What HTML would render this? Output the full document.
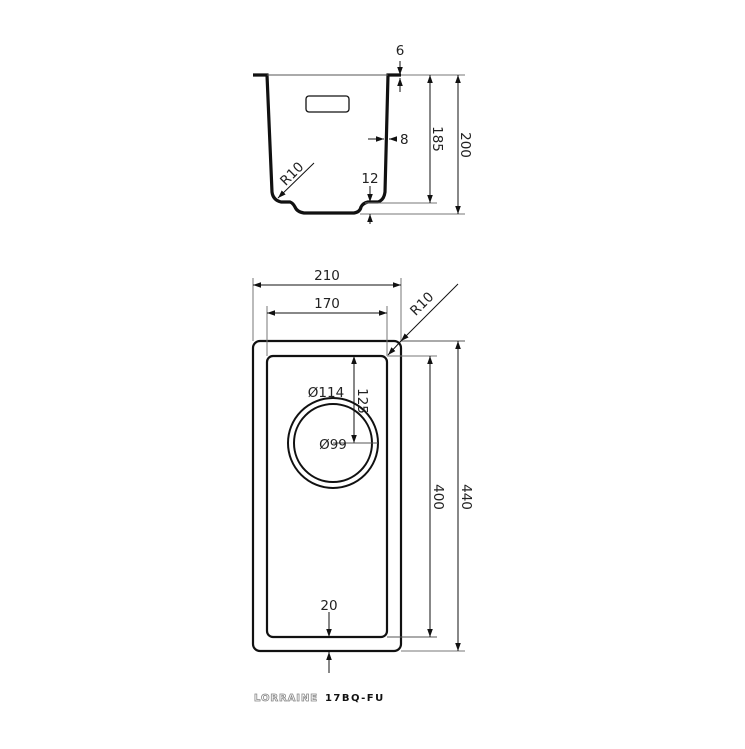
<!DOCTYPE html>
<html><head><style>
html,body{margin:0;padding:0;background:#fff;}
svg{display:block;}
text{font-family:"DejaVu Sans","Liberation Sans",sans-serif;font-size:13.5px;fill:#222;}
</style></head><body>
<svg width="745" height="749" viewBox="0 0 745 749" xmlns="http://www.w3.org/2000/svg">
<defs>
<marker id="a" viewBox="0 0 10 10" refX="10" refY="5" markerWidth="8" markerHeight="8" orient="auto-start-reverse" markerUnits="userSpaceOnUse"><path d="M0,1.5 L10,5 L0,8.5 z" fill="#111"/></marker>
</defs>
<g stroke="#111" fill="none">
<!-- top section -->
<path d="M253,75 H267 L272,192 Q273,200 281,202 H290 Q293,203 295,207 Q297,212 304,213 H354 Q360,212 361,207 Q363,203 368,202 H378 Q384,200 385,192 L388,75 H401" stroke-width="3.2"/>
<line x1="267" y1="75" x2="388" y2="75" stroke-width="1" stroke="#555"/>
<rect x="306" y="96" width="43" height="16" rx="3" stroke-width="1.3"/>
<g stroke-width="1">
<line x1="401" y1="75" x2="465" y2="75" stroke="#777"/>
<line x1="365" y1="203" x2="437" y2="203" stroke="#777"/>
<line x1="360" y1="214" x2="465" y2="214" stroke="#777"/>
<line x1="400" y1="61" x2="400" y2="75" marker-end="url(#a)"/>
<line x1="400" y1="92" x2="400" y2="78" marker-end="url(#a)"/>
<line x1="430" y1="75" x2="430" y2="203" marker-start="url(#a)" marker-end="url(#a)"/>
<line x1="458" y1="75" x2="458" y2="214" marker-start="url(#a)" marker-end="url(#a)"/>
<line x1="368" y1="139" x2="384" y2="139" marker-end="url(#a)"/>
<line x1="397" y1="139" x2="389" y2="139" marker-end="url(#a)"/>
<line x1="314" y1="163" x2="278" y2="198" marker-end="url(#a)"/>
<line x1="370" y1="186" x2="370" y2="202" marker-end="url(#a)"/>
<line x1="370" y1="224" x2="370" y2="214" marker-end="url(#a)"/>
</g>
<!-- plan -->
<rect x="253" y="341" width="148" height="310" rx="7" stroke-width="2.2"/>
<rect x="267" y="356" width="120" height="281" rx="6" stroke-width="2.2"/>
<circle cx="333" cy="443" r="45" stroke-width="2"/>
<circle cx="333" cy="443" r="39" stroke-width="2"/>
<g stroke-width="1">
<line x1="253" y1="278" x2="253" y2="341" stroke="#777"/>
<line x1="401" y1="278" x2="401" y2="341" stroke="#777"/>
<line x1="267" y1="306" x2="267" y2="356" stroke="#777"/>
<line x1="387" y1="306" x2="387" y2="356" stroke="#777"/>
<line x1="253" y1="285" x2="401" y2="285" marker-start="url(#a)" marker-end="url(#a)"/>
<line x1="267" y1="313" x2="387" y2="313" marker-start="url(#a)" marker-end="url(#a)"/>
<line x1="401" y1="341" x2="465" y2="341" stroke="#555"/>
<line x1="401" y1="651" x2="465" y2="651" stroke="#777"/>
<line x1="387" y1="356" x2="437" y2="356" stroke="#777"/>
<line x1="387" y1="637" x2="437" y2="637" stroke="#555"/>
<line x1="458" y1="341" x2="458" y2="651" marker-start="url(#a)" marker-end="url(#a)"/>
<line x1="430" y1="356" x2="430" y2="637" marker-start="url(#a)" marker-end="url(#a)"/>
<line x1="354" y1="356" x2="354" y2="443" marker-start="url(#a)" marker-end="url(#a)"/>
<line x1="333" y1="443" x2="378" y2="443" stroke="#555"/>
<line x1="458" y1="284" x2="401" y2="341" marker-end="url(#a)"/>
<line x1="401" y1="341" x2="388" y2="355" marker-end="url(#a)"/>
<line x1="329" y1="612" x2="329" y2="637" marker-end="url(#a)"/>
<line x1="329" y1="673" x2="329" y2="652" marker-end="url(#a)"/>
</g>
</g>
<text x="400" y="55" text-anchor="middle">6</text>
<text x="400" y="144">8</text>
<text x="370" y="183" text-anchor="middle">12</text>
<text transform="translate(295,177) rotate(-45)" text-anchor="middle">R10</text>
<text transform="translate(433,139) rotate(90)" text-anchor="middle">185</text>
<text transform="translate(461,145) rotate(90)" text-anchor="middle">200</text>
<text x="327" y="280" text-anchor="middle">210</text>
<text x="327" y="308" text-anchor="middle">170</text>
<text transform="translate(425,307) rotate(-45)" text-anchor="middle">R10</text>
<text x="326" y="397" text-anchor="middle">Ø114</text>
<text x="333" y="449" text-anchor="middle">Ø99</text>
<text transform="translate(358,401) rotate(90)" text-anchor="middle">125</text>
<text transform="translate(434,497) rotate(90)" text-anchor="middle">400</text>
<text transform="translate(462,497) rotate(90)" text-anchor="middle">440</text>
<text x="329" y="610" text-anchor="middle">20</text>
<text x="254" y="701" style="font-size:10px;letter-spacing:0.9px;fill:#fff;stroke:#888;stroke-width:0.8;font-weight:bold" textLength="64">LORRAINE</text>
<text x="325" y="701" style="font-size:10px;font-weight:bold;letter-spacing:0.8px;fill:#111" textLength="59">17BQ-FU</text>
</svg>
</body></html>
